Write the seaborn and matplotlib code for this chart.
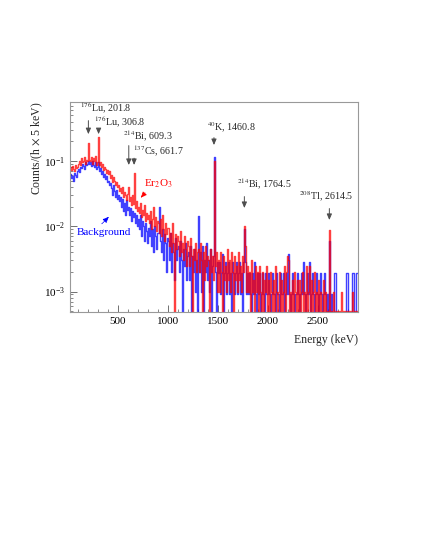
import numpy as np
import pandas as pd
import seaborn as sns
import matplotlib.pyplot as plt
from matplotlib.ticker import MultipleLocator, LogLocator

# spectra, counts/(h x 5 keV) in units of 1e-4, 10 keV bins starting at 20 keV
e_start = 20
bin_width = 10

er2o3 = [
    800, 720, 850, 760, 700, 880, 790, 820,
    900, 1000, 860, 1100, 950, 1000, 1150, 900, 1050, 980,
    1900, 1050, 980, 1150, 900, 1100, 1000, 1200, 880, 950,
    2300, 880, 950, 800, 900, 720, 820, 760, 650, 720,
    620, 700, 540, 600, 480, 560, 500, 420, 470, 400,
    430, 350, 380, 320, 400, 280, 330, 300, 250, 310,
    400, 240, 280, 210, 300, 220, 660, 190, 240, 170,
    200, 160, 230, 140, 180, 150, 210, 120, 160, 130,
    150, 110, 170, 90, 130, 200, 100, 140, 85, 120,
    110, 80, 130, 70, 150, 90, 60, 110, 75, 95,
    95, 50, 80, 40, 110, 55, 0, 75, 45, 70,
    60, 35, 85, 40, 55, 30, 70, 45, 25, 60,
    50, 25, 65, 35, 0, 45, 30, 55, 20, 40,
    45, 20, 55, 30, 0, 40, 15, 50, 25, 35,
    30, 0, 45, 20, 35, 15, 1000, 25, 40, 10,
    30, 10, 40, 20, 0, 35, 15, 25, 10, 45,
    15, 30, 10, 40, 20, 0, 35, 15, 25, 10,
    40, 15, 25, 10, 35, 20, 100, 50, 10, 25,
    10, 20, 5, 30, 10, 15, 5, 25, 10, 20,
    5, 25, 10, 0, 20, 5, 15, 10, 25, 5,
    15, 5, 20, 10, 0, 15, 5, 25, 10, 5,
    10, 20, 5, 15, 0, 10, 25, 5, 20, 35,
    30, 5, 10, 0, 15, 5, 20, 10, 5, 15,
    5, 15, 0, 10, 20, 5, 10, 0, 25, 5,
    10, 25, 5, 15, 0, 10, 20, 5, 10, 5,
    15, 5, 10, 0, 5, 15, 5, 10, 5, 0,
    5, 87, 5, 0, 5, 10, 5, 5, 0, 5,
    5, 0, 5, 10, 5, 5, 0, 5, 5, 0,
    5, 5, 0, 5, 10, 5, 5, 0, 5, 5,
]

background = [
    620, 540, 580, 500, 650, 600, 560, 700,
    750, 680, 820, 780, 900, 850, 760, 950, 880, 900,
    1000, 900, 960, 850, 1000, 880, 800, 950, 760, 820,
    950, 700, 780, 640, 700, 560, 620, 520, 580, 480,
    500, 420, 460, 380, 300, 420, 340, 280, 360, 260,
    300, 240, 280, 200, 260, 170, 230, 150, 250, 180,
    200, 150, 190, 120, 170, 140, 160, 110, 150, 100,
    130, 90, 150, 70, 120, 100, 60, 110, 85, 55,
    95, 70, 120, 50, 90, 40, 100, 70, 45, 80,
    80, 200, 60, 40, 90, 30, 75, 55, 20, 65,
    60, 30, 80, 20, 55, 40, 15, 65, 30, 45,
    50, 20, 60, 30, 0, 45, 25, 55, 15, 35,
    40, 15, 50, 0, 35, 20, 45, 10, 30, 0,
    145, 20, 40, 10, 50, 0, 30, 20, 55, 15,
    30, 10, 45, 0, 25, 35, 1150, 20, 0, 28,
    19, 28, 9, 19, 37, 0, 19, 28, 9, 19,
    28, 9, 19, 0, 28, 19, 9, 19, 28, 9,
    19, 28, 9, 19, 0, 28, 90, 28, 9, 19,
    9, 19, 9, 0, 19, 9, 28, 9, 0, 19,
    9, 19, 0, 9, 19, 9, 0, 19, 9, 9,
    19, 9, 0, 9, 19, 9, 9, 0, 19, 9,
    9, 0, 19, 9, 9, 19, 0, 9, 19, 9,
    37, 9, 0, 9, 19, 9, 0, 9, 9, 19,
    9, 0, 9, 19, 9, 28, 9, 0, 9, 19,
    9, 28, 0, 9, 19, 9, 0, 9, 19, 9,
    0, 9, 19, 9, 0, 9, 19, 9, 0, 9,
    0, 60, 0, 9, 0, 0, 19, 19, 0, 0,
    0, 0, 0, 0, 0, 0, 0, 0, 19, 19,
    0, 0, 0, 0, 19, 19, 0, 0, 19, 19,
]

# peak labels: (text, text x in keV, text y axes frac, arrow x keV, arrow top, arrow bottom)
peaks = [
    (r"$^{176}$Lu, 201.8", 120, 0.967, 205, 0.924, 0.833),
    (r"$^{176}$Lu, 306.8", 260, 0.900, 307, 0.881, 0.833),
    (r"$^{214}$Bi, 609.3", 550, 0.833, 609, 0.805, 0.686),
    (r"$^{137}$Cs, 661.7", 650, 0.762, 662, 0.745, 0.686),
    (r"$^{40}$K, 1460.8", 1390, 0.876, 1461, 0.843, 0.781),
    (r"$^{214}$Bi, 1764.5", 1690, 0.605, 1765, 0.562, 0.481),
    (r"$^{208}$Tl, 2614.5", 2310, 0.548, 2615, 0.505, 0.424),
]

sns.set_style("ticks")
plt.rcParams["font.family"] = ["Liberation Serif", "DejaVu Serif"]
plt.rcParams["mathtext.fontset"] = "stix"

edges = list(e_start + bin_width * np.arange(len(er2o3) + 1))
centers = [e + bin_width / 2 for e in edges[:-1]]
spec = pd.DataFrame({
    "energy": centers,
    "er2o3": [v * 1e-4 for v in er2o3],
    "background": [v * 1e-4 for v in background],
})

fig = plt.figure(figsize=(4.21, 5.45), dpi=100)
ax = fig.add_axes([0.166, 0.428, 0.684, 0.385])

sns.histplot(data=spec, x="energy", weights="background", bins=edges,
             element="step", fill=False, color="#0000ff", alpha=0.75,
             linewidth=1.0, ax=ax)
sns.histplot(data=spec, x="energy", weights="er2o3", bins=edges,
             element="step", fill=False, color="#ff0000", alpha=0.75,
             linewidth=1.0, ax=ax)

ax.set_yscale("log", nonpositive="clip")
ax.set_xlim(20, 2900)
ax.set_ylim(4.9e-4, 0.8)

ax.xaxis.set_major_locator(MultipleLocator(500))
ax.xaxis.set_minor_locator(MultipleLocator(100))
ax.yaxis.set_minor_locator(LogLocator(subs=np.arange(2, 10)))
ax.tick_params(which="both", direction="in", colors="0.35", labelcolor="black",
               labelsize=8, top=False, right=False)
ax.tick_params(which="major", length=5, width=0.6)
ax.tick_params(which="minor", length=2.5, width=0.5)
for s in ax.spines.values():
    s.set_color("0.6")
    s.set_linewidth(0.8)

ax.set_xlabel("Energy (keV)", loc="right", fontsize=8.5, labelpad=6)
ax.set_ylabel(r"Counts/(h $\times$ 5 keV)", loc="top", fontsize=8.5)
ax.yaxis.set_label_coords(-0.085, 1.0)

arrow_kw = dict(arrowstyle="-|>,head_length=0.35,head_width=0.15", color="0.3", lw=0.7)
for label, tx, ty, axx, top, bot in peaks:
    ax.text(tx, ty, label, transform=ax.get_xaxis_transform(), fontsize=7.2,
            va="center", ha="left")
    ax.annotate("", xy=(axx, bot), xytext=(axx, top),
                xycoords=ax.get_xaxis_transform(), textcoords=ax.get_xaxis_transform(),
                arrowprops=arrow_kw)

ax.text(900, 0.61, r"Er$_2$O$_3$", transform=ax.get_xaxis_transform(), color="#ff0000",
        fontsize=8, ha="center", va="center")
ax.annotate("", xy=(710, 0.533), xytext=(790, 0.576),
            xycoords=ax.get_xaxis_transform(), textcoords=ax.get_xaxis_transform(),
            arrowprops=dict(arrowstyle="-|>,head_length=0.35,head_width=0.15",
                            color="#ff0000", lw=0.6, linestyle=(0, (1, 1))))
ax.text(90, 0.376, "Background", transform=ax.get_xaxis_transform(), color="#0000ff",
        fontsize=8, ha="left", va="center")
ax.annotate("", xy=(430, 0.462), xytext=(320, 0.41),
            xycoords=ax.get_xaxis_transform(), textcoords=ax.get_xaxis_transform(),
            arrowprops=dict(arrowstyle="-|>,head_length=0.35,head_width=0.15",
                            color="#0000ff", lw=0.6, linestyle=(0, (1, 1))))

fig.savefig("out.png", dpi=100)
